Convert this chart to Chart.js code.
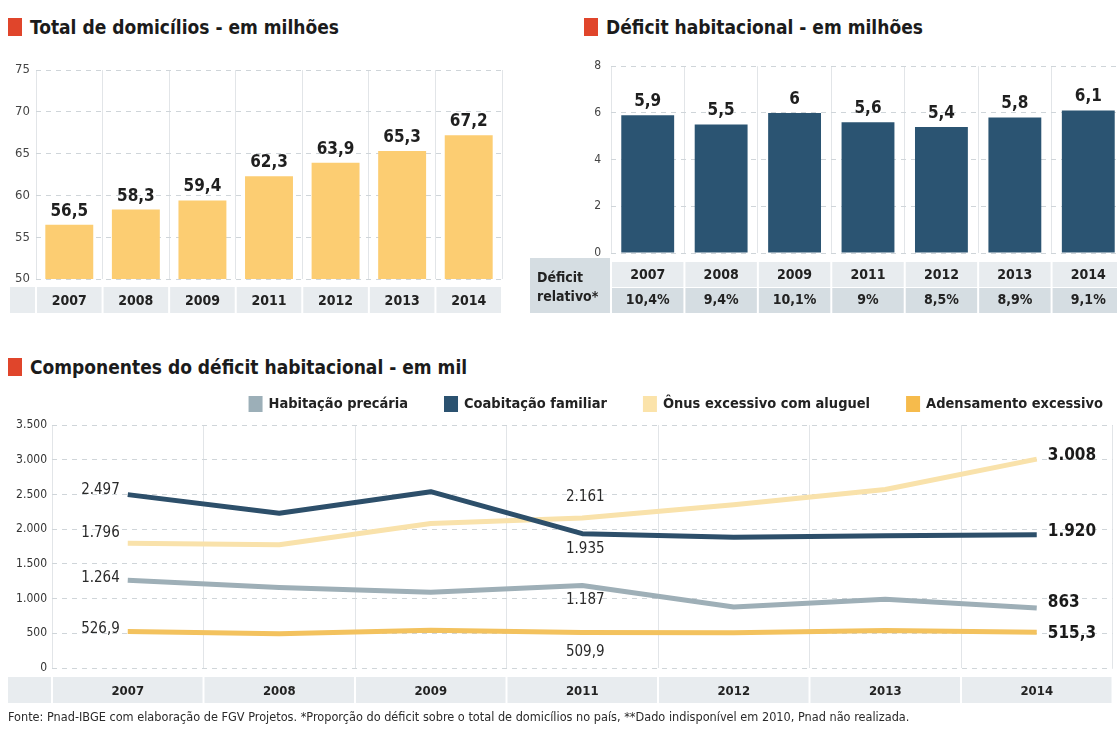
<!DOCTYPE html>
<html lang="pt-BR">
<head>
<meta charset="utf-8">
<title>Déficit habitacional</title>
<script src="https://cdn.jsdelivr.net/npm/chart.js@4.4.1/dist/chart.umd.min.js"></script>
<style>
  html, body { margin: 0; padding: 0; background: #ffffff; }
  body { width: 1117px; height: 729px; position: relative; overflow: hidden;
         font-family: "DejaVu Sans Condensed", "Liberation Sans Narrow", Roboto, sans-serif; }
  .title { position: absolute; font-weight: bold; font-size: 19px; color: #1b1b1b; white-space: nowrap; line-height: 20px; }
  .title::before { content: ""; position: absolute; left: -22px; top: 1px; width: 14px; height: 18px; background: #e0452b; }
  .box { position: absolute; }
  .footer { position: absolute; left: 8px; top: 709px; font-size: 12.6px; color: #2a2a2a; white-space: nowrap; }
</style>
</head>
<body>
<div class="title" style="left:30px; top:17px;">Total de domicílios - em milhões</div>
<div class="title" style="left:606px; top:17px;">Déficit habitacional - em milhões</div>
<div class="title" style="left:30px; top:357px;">Componentes do déficit habitacional - em mil</div>

<div class="box" style="left:0; top:56px; width:510px; height:264px;"><canvas id="domicilios"></canvas></div>
<div class="box" style="left:525px; top:49px; width:610px; height:271px;"><canvas id="deficit"></canvas></div>
<div class="box" style="left:0; top:390px; width:1117px; height:320px;"><canvas id="componentes"></canvas></div>

<div class="footer">Fonte: Pnad-IBGE com elaboração de FGV Projetos. *Proporção do déficit sobre o total de domicílios no país, **Dado indisponível em 2010, Pnad não realizada.</div>

<script>
// ---- data ----
const anos = ['2007', '2008', '2009', '2011', '2012', '2013', '2014'];
const totalDomicilios = [56.5, 58.3, 59.4, 62.3, 63.9, 65.3, 67.2];
const deficitHabitacional = [5.9, 5.5, 6, 5.6, 5.4, 5.8, 6.1];
const deficitRelativo = ['10,4%', '9,4%', '10,1%', '9%', '8,5%', '8,9%', '9,1%'];

const habitacaoPrecaria = [1264, 1160, 1090, 1187, 880, 990, 863];
const coabitacaoFamiliar = [2497, 2230, 2540, 1935, 1885, 1905, 1920];
const onusAluguel = [1796, 1775, 2080, 2161, 2350, 2570, 3008];
const adensamentoExcessivo = [526.9, 495, 545, 509.9, 508, 540, 515.3];

// ---- shared styling ----
const FONT = '"DejaVu Sans Condensed", "Liberation Sans Narrow", Roboto, sans-serif';
const GRID_DASH = '#cfd5d9';
const GRID_SOLID = '#e2e5e8';
const BAND_LIGHT = '#e8ecef';
const BAND_DARK = '#d5dde2';

// Brazilian number format: 2497 -> "2.497", 526.9 -> "526,9"
function fmtBR(v) {
  const parts = String(v).split('.');
  const intPart = parts[0].replace(/\B(?=(\d{3})+(?!\d))/g, '.');
  return parts.length > 1 ? intPart + ',' + parts[1] : intPart;
}

Chart.defaults.font.family = FONT;
Chart.defaults.color = '#333';
Chart.defaults.animation = false;
Chart.defaults.responsive = true;
Chart.defaults.maintainAspectRatio = false;

// Grey category cells under the plot area (one per category, white gaps between)
const bandPlugin = {
  id: 'bands',
  beforeDraw(chart, args, opts) {
    const { ctx } = chart;
    const x = chart.scales.x;
    const n = chart.data.labels.length;
    const w = x.width / n;
    const base = chart.chartArea.bottom;
    ctx.save();
    (opts.rows || []).forEach(r => {
      ctx.fillStyle = r.color;
      for (let i = 0; i < n; i++) {
        ctx.fillRect(x.left + i * w + 1, base + r.top, w - 2, r.height);
      }
    });
    (opts.extra || []).forEach(r => {
      ctx.fillStyle = r.color;
      ctx.fillRect(r.left, base + r.top, r.width, r.height);
    });
    ctx.restore();
  }
};

// Value labels above bars
const barValuePlugin = {
  id: 'barValues',
  afterDatasetsDraw(chart) {
    const { ctx } = chart;
    const ds = chart.data.datasets[0];
    const meta = chart.getDatasetMeta(0);
    ctx.save();
    ctx.font = 'bold 17px ' + FONT;
    ctx.fillStyle = '#1f1f1f';
    ctx.textAlign = 'center';
    ctx.textBaseline = 'bottom';
    meta.data.forEach((bar, i) => {
      ctx.fillText(fmtBR(ds.data[i]), bar.x, bar.y - 5);
    });
    ctx.restore();
  }
};

// ---- chart 1: total de domicílios ----
new Chart(document.getElementById('domicilios'), {
  type: 'bar',
  data: {
    labels: anos,
    datasets: [{
      data: totalDomicilios,
      backgroundColor: '#fccd72',
      categoryPercentage: 1,
      barPercentage: 0.72
    }]
  },
  options: {
    layout: { padding: { top: 14, right: 8, bottom: 7, left: 0 } },
    plugins: {
      legend: { display: false },
      tooltip: { enabled: false },
      bands: {
        rows: [{ top: 8, height: 26, color: BAND_LIGHT }],
        extra: [{ left: 10, width: 25, top: 8, height: 26, color: BAND_LIGHT }]
      }
    },
    scales: {
      x: {
        border: { display: false },
        grid: { color: GRID_SOLID, drawTicks: false, offset: true },
        ticks: { font: { size: 14, weight: 'bold' }, color: '#222', padding: 14 },
        afterFit: s => { s.height = 34; }
      },
      y: {
        min: 50, max: 75,
        border: { display: false, dash: [5, 5] },
        grid: { color: GRID_DASH, drawTicks: false },
        ticks: { stepSize: 5, font: { size: 13 }, color: '#444', padding: 6 },
        afterFit: s => { s.width = 36; }
      }
    }
  },
  plugins: [bandPlugin, barValuePlugin]
});

// Row of relative deficit percentages plus the row header
const relativoPlugin = {
  id: 'relativo',
  afterDraw(chart) {
    const { ctx } = chart;
    const x = chart.scales.x;
    const base = chart.chartArea.bottom;
    ctx.save();
    ctx.font = 'bold 14px ' + FONT;
    ctx.fillStyle = '#222';
    ctx.textAlign = 'center';
    ctx.textBaseline = 'middle';
    deficitRelativo.forEach((t, i) => {
      ctx.fillText(t, x.getPixelForValue(i), base + 47.5);
    });
    ctx.textAlign = 'left';
    ctx.fillText('Déficit', 12, base + 25);
    ctx.fillText('relativo*', 12, base + 44);
    ctx.restore();
  }
};

// ---- chart 2: déficit habitacional ----
new Chart(document.getElementById('deficit'), {
  type: 'bar',
  data: {
    labels: anos,
    datasets: [{
      data: deficitHabitacional,
      backgroundColor: '#2b5472',
      categoryPercentage: 1,
      barPercentage: 0.72
    }]
  },
  options: {
    layout: { padding: { top: 17, right: 10, bottom: 7, left: 0 } },
    plugins: {
      legend: { display: false },
      tooltip: { enabled: false },
      bands: {
        rows: [
          { top: 9, height: 25, color: BAND_LIGHT },
          { top: 35, height: 25, color: BAND_DARK }
        ],
        extra: [{ left: 5, width: 80, top: 5, height: 55, color: BAND_DARK }]
      }
    },
    scales: {
      x: {
        border: { display: false },
        grid: { color: GRID_SOLID, drawTicks: false, offset: true },
        ticks: { font: { size: 14, weight: 'bold' }, color: '#222', padding: 14 },
        afterFit: s => { s.height = 60; }
      },
      y: {
        min: 0, max: 8,
        border: { display: false, dash: [5, 5] },
        grid: { color: GRID_DASH, drawTicks: false },
        ticks: { stepSize: 2, font: { size: 12 }, color: '#444', padding: 10 },
        afterFit: s => { s.width = 86; }
      }
    }
  },
  plugins: [bandPlugin, barValuePlugin, relativoPlugin]
});

// ---- chart 3: componentes do déficit ----
const legendPlugin = {
  id: 'boxLegend',
  afterDraw(chart, args, opts) {
    const { ctx } = chart;
    ctx.save();
    ctx.font = 'bold 14.5px ' + FONT;
    ctx.textBaseline = 'middle';
    ctx.textAlign = 'left';
    // lay items out from the right edge leftwards
    let right = opts.right;
    const items = chart.data.datasets.map(d => ({ text: d.label, color: d.legendColor || d.borderColor }));
    const widths = items.map(it => 14 + 6 + ctx.measureText(it.text).width);
    const positions = [];
    for (let i = items.length - 1; i >= 0; i--) {
      const left = right - widths[i];
      positions[i] = left;
      right = left - opts.gap;
    }
    items.forEach((it, i) => {
      const left = positions[i];
      ctx.fillStyle = it.color;
      ctx.fillRect(left, opts.y - 8, 14, 16);
      ctx.fillStyle = '#222';
      ctx.fillText(it.text, left + 20, opts.y);
    });
    ctx.restore();
  }
};

const lineLabelPlugin = {
  id: 'lineLabels',
  afterDatasetsDraw(chart) {
    const { ctx } = chart;
    ctx.save();
    ctx.textBaseline = 'middle';
    chart.data.datasets.forEach((ds, di) => {
      const meta = chart.getDatasetMeta(di);
      const dy = ds.labelDy;
      const first = meta.data[0], mid = meta.data[3], last = meta.data[6];
      ctx.font = '15px ' + FONT;
      ctx.fillStyle = '#2a2a2a';
      ctx.textAlign = 'right';
      ctx.fillText(fmtBR(ds.data[0]), first.x - 8, first.y + dy[0]);
      ctx.textAlign = 'center';
      ctx.fillText(fmtBR(ds.data[3]), mid.x + 3, mid.y + dy[1]);
      ctx.font = 'bold 17px ' + FONT;
      ctx.fillStyle = '#1a1a1a';
      ctx.textAlign = 'left';
      ctx.fillText(fmtBR(ds.data[6]), last.x + 11, last.y + dy[2]);
    });
    ctx.restore();
  }
};

const lineStyle = { borderWidth: 5, pointRadius: 0, tension: 0, borderJoinStyle: 'round', fill: false };

new Chart(document.getElementById('componentes'), {
  type: 'line',
  data: {
    labels: anos,
    datasets: [
      Object.assign({ label: 'Habitação precária', data: habitacaoPrecaria, borderColor: '#9eafb7', legendColor: '#9cafb8', labelDy: [-2, 15, -6] }, lineStyle),
      Object.assign({ label: 'Coabitação familiar', data: coabitacaoFamiliar, borderColor: '#2d4f6a', legendColor: '#2b5270', labelDy: [-5, 15, -3] }, lineStyle),
      Object.assign({ label: 'Ônus excessivo com aluguel', data: onusAluguel, borderColor: '#f9e2ab', legendColor: '#fbe3aa', labelDy: [-10, -21, -4] }, lineStyle),
      Object.assign({ label: 'Adensamento excessivo', data: adensamentoExcessivo, borderColor: '#f3c25e', legendColor: '#f6bb4c', labelDy: [-2, 20, 1] }, lineStyle)
    ]
  },
  options: {
    layout: { padding: { top: 35, right: 4.5, bottom: 6, left: 0 } },
    plugins: {
      legend: { display: false },
      tooltip: { enabled: false },
      bands: {
        rows: [{ top: 9, height: 26, color: BAND_LIGHT }],
        extra: [{ left: 8, width: 43, top: 9, height: 26, color: BAND_LIGHT }]
      },
      boxLegend: { right: 1103, y: 14, gap: 36 }
    },
    scales: {
      x: {
        offset: true,
        border: { display: false },
        grid: { color: GRID_SOLID, drawTicks: false, offset: true },
        ticks: { font: { size: 13, weight: 'bold' }, color: '#222', padding: 16 },
        afterFit: s => { s.height = 36; }
      },
      y: {
        min: 0, max: 3500,
        border: { display: false, dash: [5, 5] },
        grid: { color: GRID_DASH, drawTicks: false },
        ticks: { stepSize: 500, font: { size: 12 }, color: '#333', padding: 5, callback: v => fmtBR(v) },
        afterFit: s => { s.width = 52; }
      }
    }
  },
  plugins: [bandPlugin, legendPlugin, lineLabelPlugin]
});
</script>
</body>
</html>
